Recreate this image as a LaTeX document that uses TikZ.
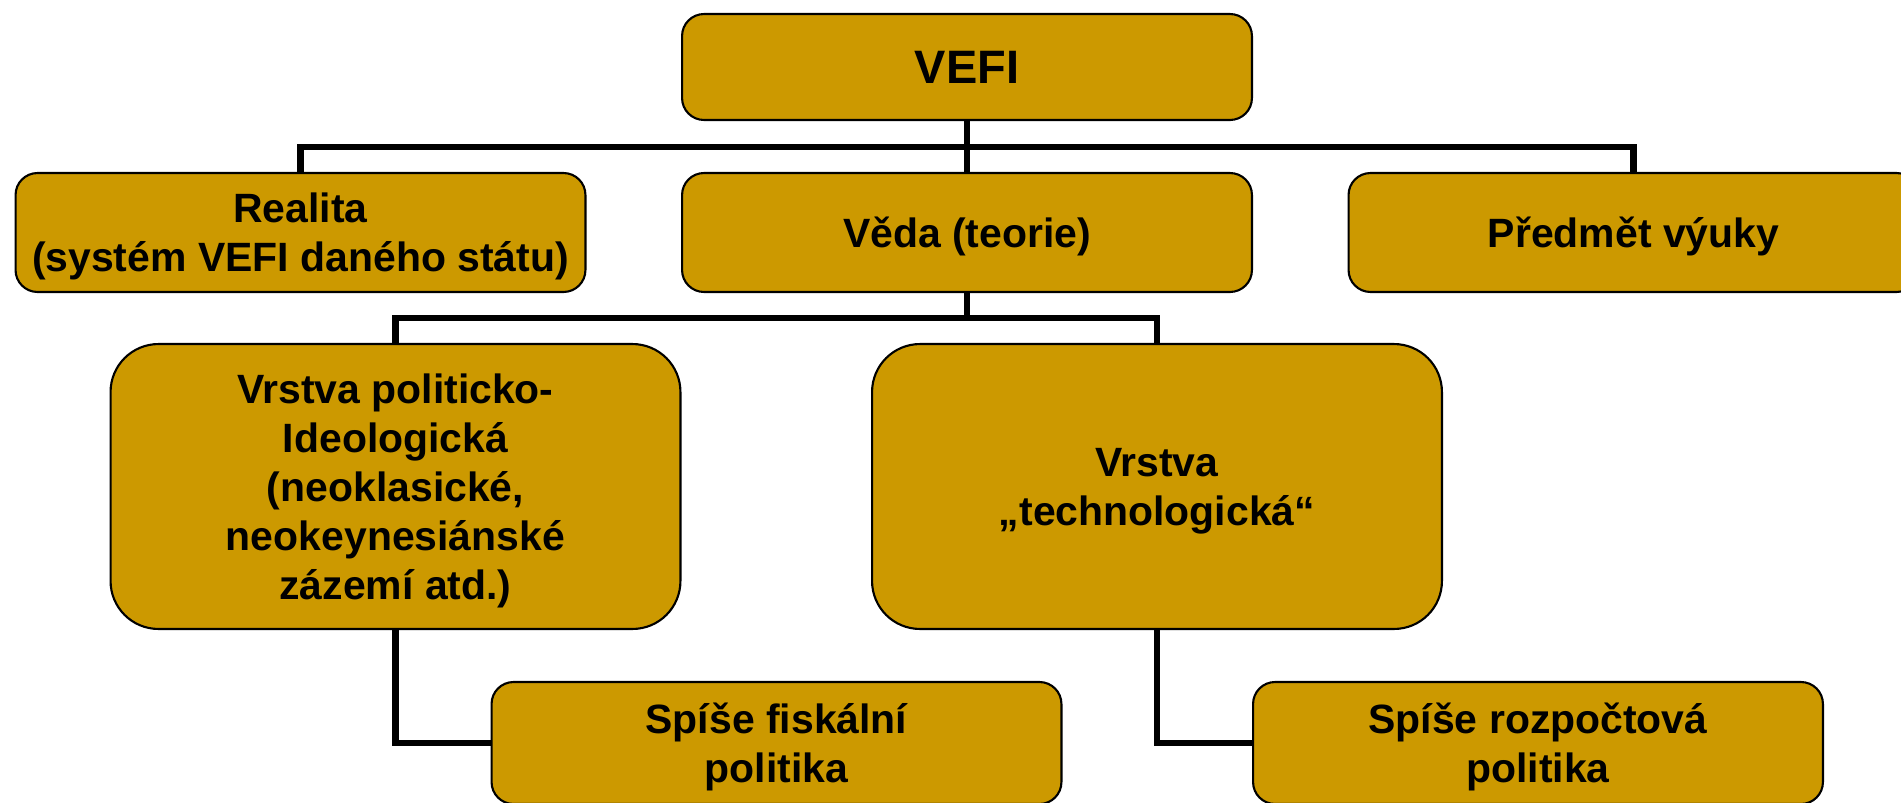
\documentclass[tikz,border=0pt]{standalone}
\usepackage{fontspec}
\setmainfont{Liberation Sans}
\usepackage{tikz}
\definecolor{zlata}{HTML}{CC9900}

\begin{document}
\begin{tikzpicture}[x=0.02cm, y=-0.02cm,
    box/.style={draw, line width=1.2pt, fill=zlata, rounded corners=0.44cm,
      minimum width=11.4cm, inner sep=0pt, align=center, text depth=0pt,
      font=\bfseries\fontsize{23.3}{27.8}\selectfont},
    bigbox/.style={box, rounded corners=0.96cm, minimum height=5.7cm},
    spoj/.style={line width=3.6pt}]
  \clip (0,0) rectangle (1901,802);
  % Horní uzel
  \node[box, minimum height=2.12cm, font=\bfseries\fontsize{26.7}{32}\selectfont] (vefi) at (967,67) {VEFI};
  % Druhá řada
  \node[box, minimum height=2.38cm] (realita) at (300.5,232.5) {Realita\\(systém VEFI daného státu)};
  \node[box, minimum height=2.38cm] (veda) at (967,232.5) {Věda (teorie)};
  \node[box, minimum height=2.38cm] (predmet) at (1633.5,232.5) {Předmět výuky};
  % Vrstvy
  \node[bigbox] (politicko) at (395.5,486.5) {Vrstva politicko-\\Ideologická\\(neoklasické,\\neokeynesiánské\\zázemí atd.)};
  \node[bigbox] (techno) at (1157,486.5) {Vrstva\\„technologická“};
  % Spodní řada
  \node[box, minimum height=2.44cm] (fiskalni) at (776.5,743) {Spíše fiskální\\politika};
  \node[box, minimum height=2.44cm] (rozpoctova) at (1538,743) {Spíše rozpočtová\\politika};
  % Spojnice
  \coordinate (rozc1) at (967,147);
  \coordinate (rozc2) at (967,318);
  \draw[spoj] (vefi.south) -- (veda.north);
  \draw[spoj] (realita.north) |- (rozc1) -| (predmet.north);
  \draw[spoj] (veda.south) -- (rozc2);
  \draw[spoj] (politicko.north) |- (rozc2) -| (techno.north);
  \draw[spoj] (politicko.south) |- (fiskalni.west);
  \draw[spoj] (techno.south) |- (rozpoctova.west);
\end{tikzpicture}
\end{document}
